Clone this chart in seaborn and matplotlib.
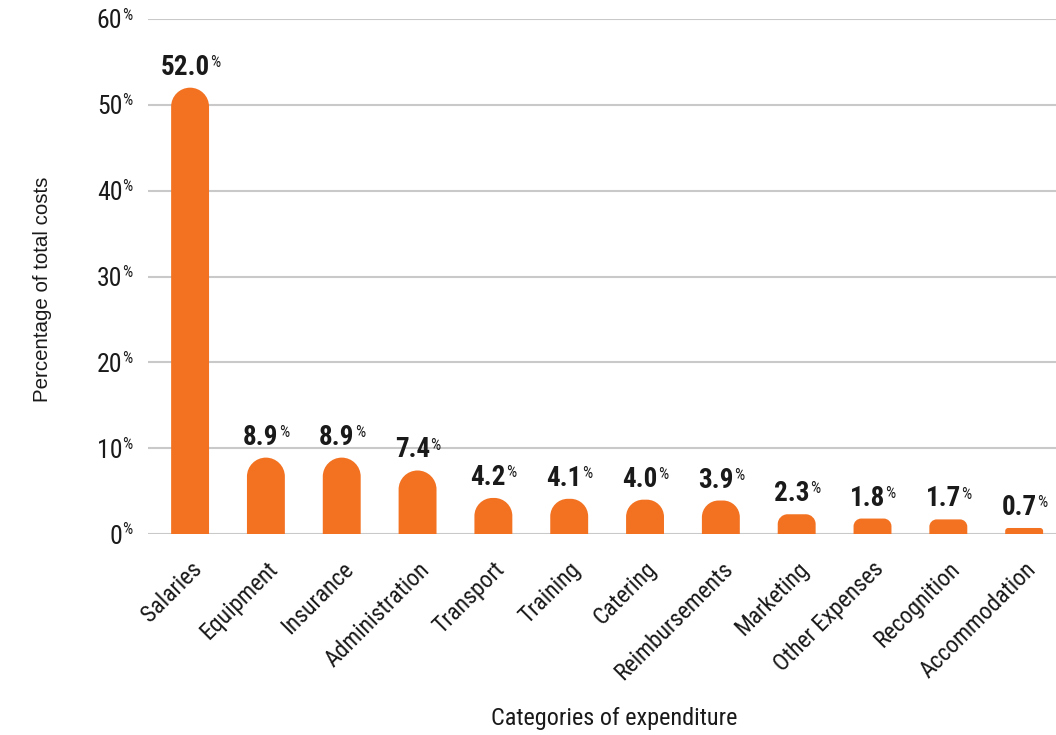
import matplotlib
matplotlib.use("Agg")
import matplotlib.pyplot as plt
import matplotlib.transforms as mtransforms
from matplotlib.path import Path
from matplotlib.patches import PathPatch
import seaborn as sns
import pandas as pd

categories = ["Salaries", "Equipment", "Insurance", "Administration", "Transport",
              "Training", "Catering", "Reimbursements", "Marketing",
              "Other Expenses", "Recognition", "Accommodation"]
shares = [52.0, 8.9, 8.9, 7.4, 4.2, 4.1, 4.0, 3.9, 2.3, 1.8, 1.7, 0.7]
y_ticks = [0, 10, 20, 30, 40, 50, 60]

BAR_COLOR = "#F27222"
GRID_COLOR = "#c9c9c9"
TEXT_COLOR = "#1a1a1a"
FONT = ["Roboto Condensed", "Archivo Narrow", "DejaVu Sans"]
PLAIN_FONT = ["Liberation Sans", "DejaVu Sans"]

sns.set_theme(style="white")
plt.rcParams["font.family"] = FONT

df = pd.DataFrame({"category": categories, "share": shares})

DPI = 100
fig = plt.figure(figsize=(10.56, 7.35), dpi=DPI)
ax = fig.add_axes([148 / 1056, 1 - 534 / 735, 1 - 148 / 1056, (534 - 19) / 735])

sns.barplot(data=df, x="category", y="share", color=BAR_COLOR, width=0.5,
            saturation=1, ax=ax, zorder=3)

ax.set_ylim(0, 60)
ax.set_xlim(-0.555, 11.42)
ax.set_yticks(y_ticks)
ax.set_yticklabels([str(t) for t in y_ticks])
ax.grid(axis="y", color=GRID_COLOR, linewidth=1.5, zorder=0)
ax.grid(axis="x", visible=False)
for s in ax.spines.values():
    s.set_visible(False)
ax.tick_params(axis="y", length=0, pad=18.5, labelsize=18.5, labelcolor=TEXT_COLOR)
ax.tick_params(axis="x", length=0, pad=17, labelsize=17, labelcolor=TEXT_COLOR)
plt.setp(ax.get_xticklabels(), rotation=45, ha="right", rotation_mode="anchor")

ax.set_ylabel("Percentage of total costs", fontsize=14.8, color=TEXT_COLOR,
              family=PLAIN_FONT)
ax.yaxis.set_label_coords(-96 / 908, 0.476)
ax.set_xlabel("Categories of expenditure", fontsize=17.5, color=TEXT_COLOR)
ax.xaxis.set_label_coords(466 / 908, -173 / 515)

# Replace the square bars with bars whose tops are rounded (in screen space)
fig.canvas.draw()
px_per_unit = ax.transData.transform((0, 1))[1] - ax.transData.transform((0, 0))[1]
px_per_x = ax.transData.transform((1, 0))[0] - ax.transData.transform((0, 0))[0]
bars = list(ax.patches)
for p in bars:
    x0, w, h = p.get_x(), p.get_width(), p.get_height()
    r_px = min(w * px_per_x / 2, h * px_per_unit / 2)
    rx = r_px / px_per_x
    ry = r_px / px_per_unit
    k = 0.5523
    verts = [(x0, 0), (x0, h - ry),
             (x0, h - ry + k * ry), (x0 + rx - k * rx, h), (x0 + rx, h),
             (x0 + w - rx, h),
             (x0 + w - rx + k * rx, h), (x0 + w, h - ry + k * ry), (x0 + w, h - ry),
             (x0 + w, 0), (x0, 0)]
    codes = [Path.MOVETO, Path.LINETO,
             Path.CURVE4, Path.CURVE4, Path.CURVE4,
             Path.LINETO,
             Path.CURVE4, Path.CURVE4, Path.CURVE4,
             Path.LINETO, Path.CLOSEPOLY]
    ax.add_patch(PathPatch(Path(verts, codes), facecolor=BAR_COLOR,
                           edgecolor="none", zorder=3))
    p.set_visible(False)

renderer = fig.canvas.get_renderer()


def value_with_percent(xc, y, text, size, small, weight, dy_px, trans_base):
    """Draw `text` followed by a small raised % sign, centred on xc."""
    t1 = ax.text(0, 0, text, fontsize=size, fontweight=weight, color=TEXT_COLOR)
    t2 = ax.text(0, 0, "%", fontsize=small, color=TEXT_COLOR)
    w1 = t1.get_window_extent(renderer).width
    w2 = t2.get_window_extent(renderer).width
    start = -(w1 + w2) / 2
    t1.set_position((xc, y))
    t1.set_transform(mtransforms.offset_copy(trans_base, fig, x=start, y=dy_px, units="dots"))
    t1.set_ha("left"); t1.set_va("baseline")
    cap = size * DPI / 72 * 0.71
    t2.set_position((xc, y))
    t2.set_transform(mtransforms.offset_copy(trans_base, fig, x=start + w1 + 0.5,
                                             y=dy_px + cap - small * DPI / 72 * 0.71, units="dots"))
    t2.set_ha("left"); t2.set_va("baseline")


for i, v in enumerate(shares):
    bar_px = v * px_per_unit
    value_with_percent(i, 0, f"{v:.1f}", 19.5, 11.5, "bold", bar_px + 13, ax.transData)

# Small % signs after the y tick numbers
ytrans = mtransforms.blended_transform_factory(ax.transAxes, ax.transData)
for t in y_ticks:
    ax.text(0, t, "%", fontsize=11.5, color=TEXT_COLOR, ha="left", va="baseline",
            transform=mtransforms.offset_copy(ytrans, fig, x=-25.5, y=-0.5, units="dots"))

fig.savefig("out.png", dpi=DPI)
